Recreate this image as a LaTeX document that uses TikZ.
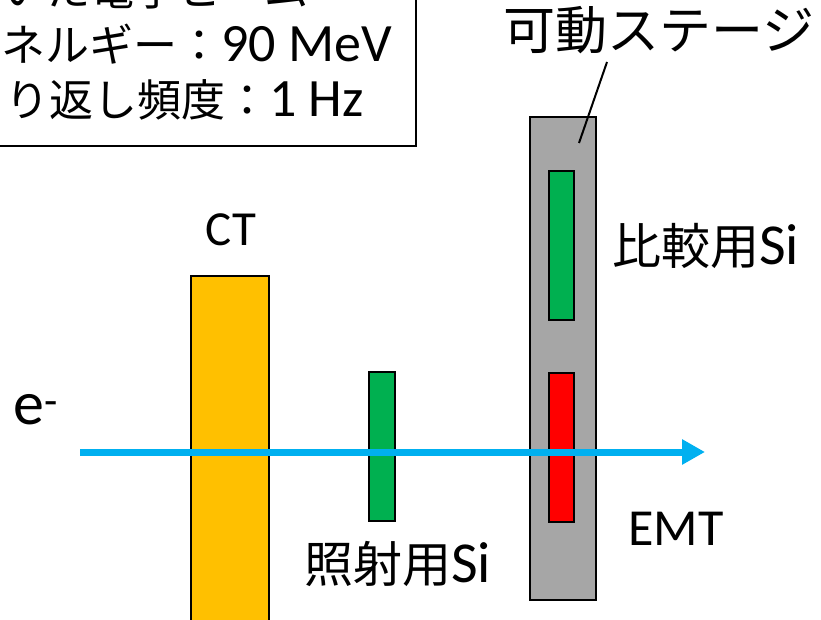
\documentclass[tikz,border=0pt]{standalone}
\usepackage{fontspec}
\setmainfont{Carlito}
\newfontfamily\jp{Noto Sans CJK JP}
\usetikzlibrary{arrows.meta}
\definecolor{ctor}{HTML}{FFC000}
\definecolor{sigreen}{HTML}{00B050}
\definecolor{stgray}{HTML}{A6A6A6}
\definecolor{beam}{HTML}{00B0F0}
\definecolor{emtred}{HTML}{FF0000}
\newcommand{\boxlat}[1]{{\fontsize{54}{55}\selectfont #1}}
\newcommand{\lbllat}[1]{{\fontsize{58}{58}\selectfont #1}}
\tikzset{
  part/.style={draw=black, line width=2.2pt, inner sep=0pt, outer sep=0pt},
  boxtext/.style={anchor=base west, inner sep=0pt, font=\fontsize{44}{55}\selectfont},
  lbl/.style={anchor=base west, inner sep=0pt, font=\fontsize{49}{58}\selectfont},
  beamline/.style={draw=beam, line width=7pt, -{Triangle[length=23pt,width=24pt]}},
}
\begin{document}
\begin{tikzpicture}[x=1pt,y=-1pt]
\useasboundingbox (0,0) rectangle (821,620);
\clip (0,0) rectangle (821,620);
% info box
\node[part, line width=2.5pt, anchor=south east, minimum width=470pt, minimum height=210pt] (info) at (416,146) {};
\node[boxtext] (l1) at (2,6) {\jp いた電子ビーム};
\node[boxtext] (l2) at (1,62) {{\jp ネルギー：}\boxlat{90 MeV}};
\node[boxtext] (l3) at (5,117) {{\jp り返し頻度：}\boxlat{1 Hz}};
% CT
\node[part, fill=ctor, minimum width=78pt, minimum height=364pt] (ct) at (230,458) {};
\node[inner sep=0pt, font=\fontsize{49}{50}\selectfont] (ctl) at (231,230) {CT};
% irradiation Si
\node[part, fill=sigreen, minimum width=26pt, minimum height=149pt] (irr) at (382,446.5) {};
\node[lbl] (irrl) at (304,582) {{\jp 照射用}\lbllat{Si}};
% stage
\node[part, fill=stgray, minimum width=66pt, minimum height=483pt] (stage) at (563,358.5) {};
\node[part, fill=sigreen, minimum width=25pt, minimum height=149pt] (cmp) at (561.5,245.5) {};
\node[part, fill=emtred, minimum width=25pt, minimum height=149pt] (emt) at (561.5,447.5) {};
\node[lbl] (cmpl) at (612,265) {{\jp 比較用}\lbllat{Si}};
\node[inner sep=0pt, font=\fontsize{52}{55}\selectfont] (emtl) at (676,529) {EMT};
\node[lbl, font=\fontsize{52}{58}\selectfont\jp] (stl) at (503,50) {可動ステージ};
\coordinate (lda) at (607,62);
\coordinate (ldb) at (579,143);
\draw[line width=2pt] (lda) -- (ldb);
% beam
\node[inner sep=0pt, font=\fontsize{62}{62}\selectfont] (el) at (36,410) {e\textsuperscript{-}};
\coordinate (bs) at (80,452);
\coordinate (be) at (705,452);
\draw[beamline] (bs) -- (be);
\end{tikzpicture}
\end{document}
